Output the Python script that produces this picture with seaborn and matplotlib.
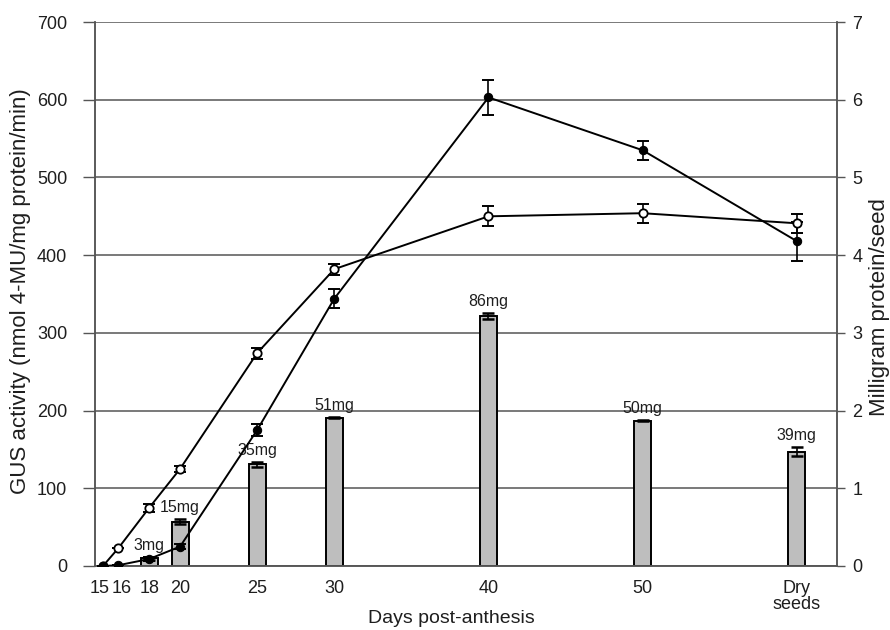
import numpy as np
import pandas as pd
import matplotlib
matplotlib.use("Agg")
import matplotlib.pyplot as plt
import matplotlib.transforms as mtransforms
import seaborn as sns

# Sampling days (60 = dry seeds)
days = [15, 16, 18, 20, 25, 30, 40, 50, 60]
day_labels = ["15", "16", "18", "20", "25", "30", "40", "50", "Dry\nseeds"]

# GUS activity, two lines (open and filled markers) with SE
gus_open = [0, 23, 75, 125, 274, 382, 450, 454, 441]
gus_open_err = [0, 0, 5, 4, 7, 7, 13, 12, 12]
gus_filled = [0, 1, 9, 25, 175, 344, 603, 535, 418]
gus_filled_err = [0, 0, 3, 3, 8, 12, 22, 12, 25]

# Protein per seed (bars, right axis) and seed weight labels
bar_days = [18, 20, 25, 30, 40, 50, 60]
protein = [0.10, 0.57, 1.31, 1.91, 3.22, 1.87, 1.47]
protein_err = [0.02, 0.03, 0.03, 0.01, 0.04, 0.01, 0.06]
seed_weight = ["3mg", "15mg", "35mg", "51mg", "86mg", "50mg", "39mg"]

sns.set_theme(style="white")
plt.rcParams["font.family"] = ["Liberation Sans", "DejaVu Sans"]

TXT = "#1e1e1e"
AXC = "#555555"

fig = plt.figure(figsize=(8.9, 6.3), dpi=100)
ax = fig.add_axes([0.1067, 0.1016, 0.8337, 0.8634])
ax2 = ax.twinx()

# Bars and grid on the right axis, lines drawn above them
ax.set_zorder(ax2.get_zorder() + 1)
ax.patch.set_visible(False)

bars_df = pd.DataFrame({"day": bar_days, "protein": protein})
sns.barplot(data=bars_df, x="day", y="protein", native_scale=True, width=0.55,
            color="#bebebe", saturation=1, edgecolor="black", linewidth=1.4,
            errorbar=None, ax=ax2, zorder=2)
ax2.errorbar(bar_days, protein, yerr=protein_err, fmt="none", ecolor="black",
             elinewidth=1.2, capsize=4, capthick=1.8, zorder=3)
for d, p, e, lab in zip(bar_days, protein, protein_err, seed_weight):
    ax2.text(d, p + e + 0.05, lab, ha="center", va="bottom", fontsize=11.5,
             color=TXT, zorder=4)

ax2.set_ylim(0, 7)
ax2.set_yticks(range(0, 8))
ax2.grid(axis="y", color=AXC, linewidth=1.1)
ax2.grid(axis="x", visible=False)
ax2.set_axisbelow(True)
ax2.set_ylabel("Milligram protein/seed", fontsize=16, color=TXT)
ax2.yaxis.label.set_va("center")
ax2.yaxis.set_label_coords(1.058, 0.476)

lines_df = pd.DataFrame({"day": days * 2,
                         "gus": gus_open + gus_filled,
                         "series": ["open"] * len(days) + ["filled"] * len(days)})
sns.lineplot(data=lines_df[lines_df.series == "open"], x="day", y="gus",
             color="black", linewidth=1.4, marker="o", markersize=6,
             markerfacecolor="white", markeredgecolor="black",
             markeredgewidth=1.3, ax=ax, zorder=5)
sns.lineplot(data=lines_df[lines_df.series == "filled"], x="day", y="gus",
             color="black", linewidth=1.4, marker="o", markersize=6,
             markerfacecolor="black", markeredgecolor="black", ax=ax, zorder=6)
ax.errorbar(days, gus_open, yerr=gus_open_err, fmt="none", ecolor="black",
            elinewidth=1.2, capsize=4, capthick=1.4, zorder=4)
ax.errorbar(days, gus_filled, yerr=gus_filled_err, fmt="none", ecolor="black",
            elinewidth=1.2, capsize=4, capthick=1.4, zorder=4)

ax.set_xlim(14.48, 62.6)
ax.set_ylim(0, 700)
ax.set_yticks(range(0, 701, 100))
ax.set_xticks(days)
ax.set_xticklabels(day_labels, linespacing=0.95)
ax.grid(False)
ax.set_xlabel("Days post-anthesis", fontsize=14, color=TXT)
ax.xaxis.label.set_va("center")
ax.xaxis.set_label_coords(0.481, -0.096)
ax.set_ylabel("GUS activity (nmol 4-MU/mg protein/min)", fontsize=16,
              color=TXT)
ax.yaxis.label.set_va("center")
ax.yaxis.set_label_coords(-0.0997, 0.5055)

for a in (ax, ax2):
    a.spines["top"].set_visible(False)
    for s in ("left", "right", "bottom"):
        a.spines[s].set_color(AXC)
        a.spines[s].set_linewidth(1.1)
ax.tick_params(axis="y", which="both", left=True, direction="out", length=9,
               width=1, color=AXC, labelsize=13, labelcolor=TXT, pad=11)
ax.tick_params(axis="x", bottom=False, labelsize=13, labelcolor=TXT, pad=4)
ax2.tick_params(axis="y", right=True, direction="out", length=6, width=1,
                color=AXC, labelsize=13, labelcolor=TXT, pad=5)

# Nudge the crowded first two day labels apart
shifts = {"15": -3.5, "16": 3.0}
for lab in ax.get_xticklabels():
    dx = shifts.get(lab.get_text(), 0)
    if dx:
        lab.set_transform(lab.get_transform() +
                          mtransforms.ScaledTranslation(dx / 100, 0,
                                                        fig.dpi_scale_trans))

fig.savefig("out.png", dpi=100)
